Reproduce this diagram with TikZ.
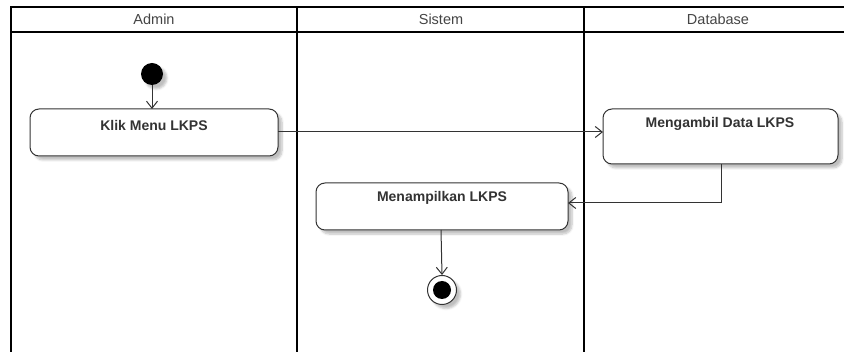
\documentclass[tikz,border=0pt]{standalone}
\usepackage{fontspec}
\setmainfont{Liberation Sans}
\usetikzlibrary{arrows.meta,shadows.blur}
\definecolor{linegray}{HTML}{333333}
\definecolor{textgray}{HTML}{444444}
\tikzset{
  lane/.style={draw=black,line width=2pt},
  lanetitle/.style={text=textgray,font=\fontsize{14.5}{16}\selectfont,anchor=center},
  action/.style={draw=linegray,line width=1pt,rounded corners=9pt,fill=white,
    blur shadow={shadow xshift=4pt,shadow yshift=-4pt,shadow blur steps=6,shadow blur extra rounding=2pt,shadow opacity=25}},
  actlabel/.style={text=linegray,font=\bfseries\fontsize{14}{16}\selectfont},
  flow/.style={draw=linegray,line width=1pt,-{Straight Barb[length=7pt,width=11pt,line width=1pt]}},
}
\begin{document}
\begin{tikzpicture}[x=1pt,y=-1pt]
  \useasboundingbox (0,0) rectangle (844,352);
  % swimlane frame
  \draw[lane] (11,352) -- (11,7) -- (846,7);
  \draw[lane] (11,32) -- (846,32);
  \draw[lane] (297,7) -- (297,352);
  \draw[lane] (584,7) -- (584,352);
  \node[lanetitle] (tadmin) at (154,19.5) {Admin};
  \node[lanetitle] (tsistem) at (441,19.5) {Sistem};
  \node[lanetitle] (tdb) at (718,19.5) {Database};
  % actions
  \path[action] (30,109) rectangle (278,156);
  \node[actlabel] (klik) at (154,125) {Klik Menu LKPS};
  \path[action] (603,109) rectangle (838,164);
  \node[actlabel] (ambil) at (720,124) {Mengambil Data LKPS};
  \path[action] (316,183) rectangle (568,230);
  \node[actlabel] (tampil) at (442,198) {Menampilkan LKPS};
  \coordinate (klikS) at (152,109);
  \coordinate (klikE) at (278,132);
  \coordinate (ambilW) at (603,132);
  \coordinate (ambilS) at (721,164);
  \coordinate (tampilE) at (568,203);
  \coordinate (tampilS) at (441,230);
  % start and end
  \node[circle,fill=black,minimum size=22pt,inner sep=0pt,
    blur shadow={shadow xshift=4pt,shadow yshift=-4pt,shadow opacity=25}] (start) at (152,74) {};
  \node[circle,draw=linegray,line width=1pt,fill=white,minimum size=29pt,inner sep=0pt,
    blur shadow={shadow xshift=4pt,shadow yshift=-4pt,shadow opacity=25}] (stop) at (442,290) {};
  \node[circle,fill=black,minimum size=18pt,inner sep=0pt] (stopdot) at (stop.center) {};
  % flows
  \draw[flow] (start.south) -- (klikS);
  \draw[flow] (klikE) -- (ambilW);
  \draw[flow] (ambilS) |- (tampilE);
  \draw[flow] (tampilS) -- (stop.north);
\end{tikzpicture}
\end{document}
